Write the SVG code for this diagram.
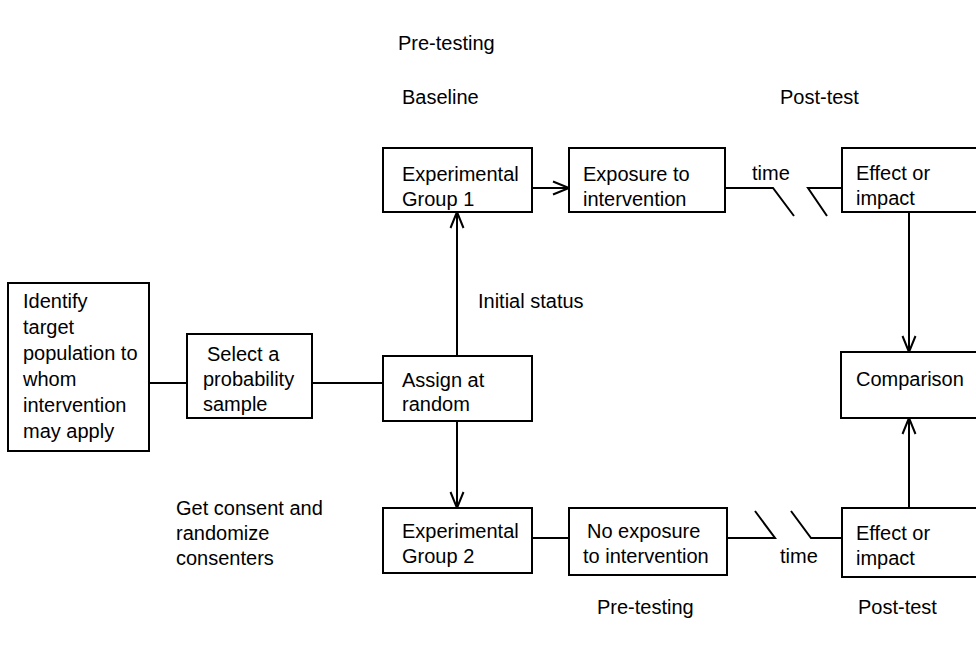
<svg xmlns="http://www.w3.org/2000/svg" width="976" height="649" viewBox="0 0 976 649">
<defs>
<marker id="v" markerUnits="userSpaceOnUse" markerWidth="20" markerHeight="20" viewBox="-18 -10 20 20" refX="0" refY="0" orient="auto" overflow="visible">
<path d="M-16,-6.5 L0,0 L-16,6.5" fill="none" stroke="#000" stroke-width="2"/>
</marker>
<style>
rect{fill:#fff;stroke:#000;stroke-width:2}
text{font-family:"Liberation Sans",Arial,sans-serif;font-size:20px;fill:#000}
.c line,.c polyline{stroke:#000;stroke-width:2;fill:none}
</style>
</defs>
<rect x="0" y="0" width="976" height="649" style="stroke:none"/>
<g class="c" id="connectors">
<line x1="149" y1="383" x2="187" y2="383"/>
<line x1="312" y1="383" x2="383" y2="383"/>
<line x1="457" y1="356" x2="457" y2="212" marker-end="url(#v)"/>
<line x1="457" y1="421" x2="457" y2="508" marker-end="url(#v)"/>
<line x1="532" y1="188" x2="569" y2="188" marker-end="url(#v)"/>
<line x1="532" y1="538" x2="569" y2="538"/>
<polyline points="725,188 773,188 794,216"/>
<polyline points="827,216 808,188 842,188"/>
<polyline points="727,538 775,538 755,511"/>
<polyline points="791,511 811,538 842,538"/>
<line x1="909" y1="212" x2="909" y2="352" marker-end="url(#v)"/>
<line x1="909" y1="508" x2="909" y2="418" marker-end="url(#v)"/>
</g>
<g id="identify"><rect x="8" y="283" width="141" height="168"/>
<text x="23" y="308">Identify</text><text x="23" y="334">target</text><text x="23" y="360">population to</text><text x="23" y="386">whom</text><text x="23" y="412">intervention</text><text x="23" y="438">may apply</text></g>
<g id="select"><rect x="187" y="334" width="125" height="84"/>
<text x="207" y="361">Select a</text><text x="203" y="386">probability</text><text x="203" y="411">sample</text></g>
<g id="assign"><rect x="383" y="356" width="149" height="65"/>
<text x="402" y="387">Assign at</text><text x="402" y="411">random</text></g>
<g id="eg1"><rect x="383" y="148" width="149" height="64"/>
<text x="402" y="181">Experimental</text><text x="402" y="206">Group 1</text></g>
<g id="exposure"><rect x="569" y="148" width="156" height="64"/>
<text x="583" y="181">Exposure to</text><text x="583" y="206">intervention</text></g>
<g id="effect1"><rect x="842" y="148" width="140" height="64"/>
<text x="856" y="180">Effect or</text><text x="856" y="205">impact</text></g>
<g id="comparison"><rect x="841" y="352" width="140" height="66"/>
<text x="856" y="386">Comparison</text></g>
<g id="eg2"><rect x="383" y="508" width="149" height="65"/>
<text x="402" y="538">Experimental</text><text x="402" y="563">Group 2</text></g>
<g id="noexposure"><rect x="569" y="508" width="158" height="67"/>
<text x="587" y="538">No exposure</text><text x="583" y="563">to intervention</text></g>
<g id="effect2"><rect x="842" y="508" width="140" height="69"/>
<text x="856" y="540">Effect or</text><text x="856" y="565">impact</text></g>
<g id="labels">
<text x="398" y="50">Pre-testing</text>
<text x="402" y="104">Baseline</text>
<text x="780" y="104">Post-test</text>
<text x="752" y="180">time</text>
<text x="478" y="308">Initial status</text>
<text x="176" y="515">Get consent and</text>
<text x="176" y="540">randomize</text>
<text x="176" y="565">consenters</text>
<text x="780" y="563">time</text>
<text x="597" y="614">Pre-testing</text>
<text x="858" y="614">Post-test</text>
</g>
</svg>
